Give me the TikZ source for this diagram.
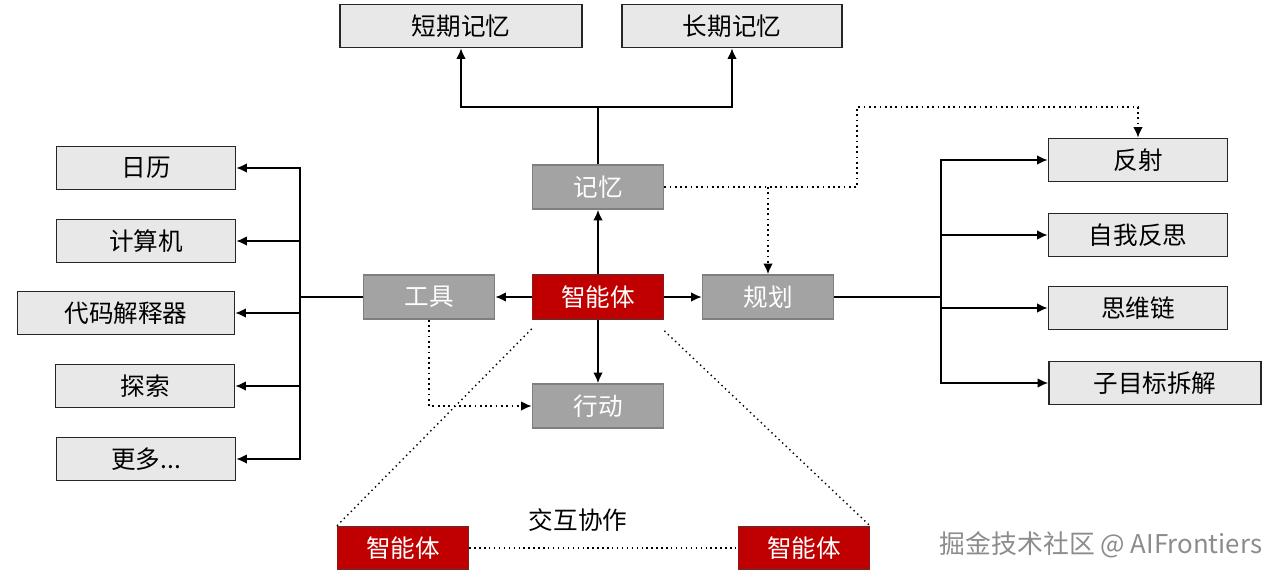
\documentclass[tikz,border=0pt]{standalone}
\usepackage{fontspec}
\setmainfont{Noto Sans CJK SC}
\usetikzlibrary{arrows.meta, calc}

\definecolor{boxgray}{HTML}{E8E8E8}
\definecolor{modgray}{HTML}{A3A3A3}
\definecolor{modedge}{HTML}{7F7F7F}
\definecolor{agentred}{HTML}{C00000}
\definecolor{agentedge}{HTML}{8B1A1A}

\tikzset{
	leaf/.style={draw=black!85, line width=1pt, fill=boxgray, minimum width=3.58cm, minimum height=0.86cm, inner sep=0pt, font=\fontsize{14}{16}\selectfont},
	module/.style={draw=modedge, line width=1pt, fill=modgray, text=white, minimum width=2.62cm, minimum height=0.88cm, inner sep=0pt, font=\fontsize{14}{16}\selectfont},
	agent/.style={module, draw=agentedge, fill=agentred},
	arr/.style={-{Latex[length=6pt, width=5.5pt]}, line width=1pt},
	dotarr/.style={arr, dotted},
	dotline/.style={dotted, line width=0.8pt},
}

\begin{document}
\begin{tikzpicture}[x=0.02cm, y=-0.02cm]
	\useasboundingbox (0, 0) rectangle (1278, 578);

	% centre
	\node (core) at (598, 297) [agent] {智能体};
	\node (mem) at (598, 187) [module] {记忆};
	\node (tool) at (429, 297) [module] {工具};
	\node (plan) at (768, 297) [module] {规划};
	\node (act) at (598, 406) [module] {行动};

	\draw[arr] (core.north) -- (mem.south);
	\draw[arr] (core.west) -- (tool.east);
	\draw[arr] (core.east) -- (plan.west);
	\draw[arr] (core.south) -- (act.north);

	% memory
	\node (stm) at (461, 26) [leaf, minimum width=4.84cm] {短期记忆};
	\node (ltm) at (732, 26) [leaf, minimum width=4.4cm] {长期记忆};
	\coordinate (mb) at (598, 107);
	\draw[line width=1pt] (mem.north) -- (mb);
	\draw[arr] (mb) -| (stm.south);
	\draw[arr] (mb) -| (ltm.south);

	% tools
	\node (cal) at (146, 168) [leaf] {日历};
	\node (calc) at (146, 241) [leaf] {计算机};
	\node (interp) at (126, 313) [leaf, minimum width=4.34cm] {代码解释器};
	\node (search) at (145, 386) [leaf] {探索};
	\node (more) at (146, 459) [leaf] {更多...};
	\coordinate (lb) at (300, 297);
	\draw[line width=1pt] (tool.west) -- (lb);
	\foreach \t in {cal, calc, interp, search, more}
		\draw[arr] (lb) |- (\t.east);

	% planning
	\node (refl) at (1138, 160) [leaf] {反射};
	\node (selfr) at (1138, 235) [leaf] {自我反思};
	\node (cot) at (1138, 308) [leaf] {思维链};
	\node (sub) at (1155, 383) [leaf, minimum width=4.24cm] {子目标拆解};
	\coordinate (rb) at (941, 297);
	\draw[line width=1pt] (plan.east) -- (rb);
	\foreach \t in {refl, selfr, cot, sub}
		\draw[arr] (rb) |- (\t.west);

	% dotted links
	\draw[dotarr] (mem.east) -| (857, 107) -| (refl.north);
	\draw[dotarr] (mem.east -| plan.north) -- (plan.north);
	\draw[dotarr] (tool.south) |- (act.west);

	% multi agent
	\node (ag1) at (403, 548) [agent, minimum height=0.84cm] {智能体};
	\node (ag2) at (804, 548) [agent, minimum height=0.84cm] {智能体};
	\node (coop) at (578, 520) [font=\fontsize{14}{16}\selectfont] {交互协作};
	\draw[dotline] ([yshift=-0.18cm]core.south west) -- (ag1.north west);
	\draw[dotline] ([yshift=-0.22cm]core.south east) -- (ag2.north east);
	\draw[dotline] (ag1.east) -- (ag2.west);

	\node (mark) at (1101, 545) [text=black!45, font=\fontsize{14.7}{16}\selectfont] {掘金技术社区 @ AIFrontiers};
\end{tikzpicture}
\end{document}
